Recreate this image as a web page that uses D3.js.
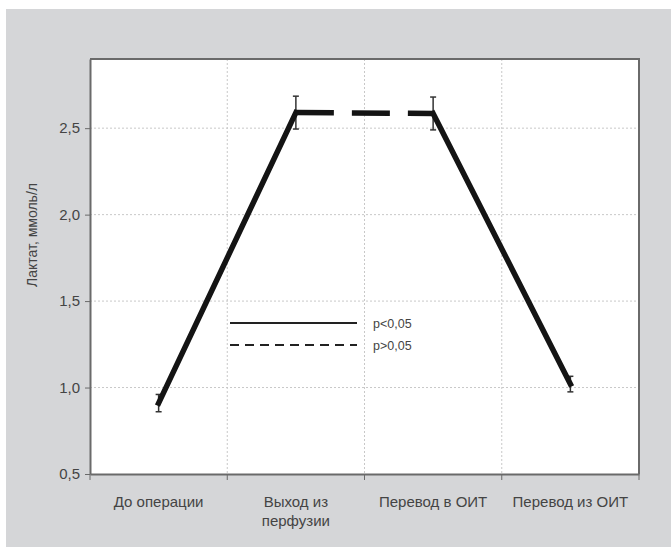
<!DOCTYPE html>
<html><head><meta charset="utf-8">
<script src="https://cdn.jsdelivr.net/npm/d3@7"></script>
<style>body{margin:0;background:#fff}svg{display:block}text{font-family:"Liberation Sans",Arial,Helvetica,sans-serif}</style>
</head><body>
<svg id="c" width="671" height="547"></svg>
<script>
const categories = ["До операции", "Выход из перфузии", "Перевод в ОИТ", "Перевод из ОИТ"];
const categoryLines = [["До операции"], ["Выход из", "перфузии"], ["Перевод в ОИТ"], ["Перевод из ОИТ"]];
const lactate = [0.91, 2.59, 2.585, 1.02];
const errors = [0.05, 0.095, 0.095, 0.045];
const significant = [true, false, true]; // segment between consecutive points: p<0.05 ?
const yTicks = [0.5, 1.0, 1.5, 2.0, 2.5];
const legendItems = [{label: "p<0,05", dashed: false}, {label: "p>0,05", dashed: true}];

const svg = d3.select("#c");
svg.append("rect").attr("x", 6).attr("y", 9).attr("width", 665).attr("height", 538).attr("fill", "#d5d6d8");

const L = 90, R = 639, T = 59, B = 474;
const x = d3.scaleBand().domain(categories).range([L, R]).padding(0);
const y = d3.scaleLinear().domain([0.5, 2.9]).range([B, T]);
const cx = c => x(c) + x.bandwidth() / 2;

svg.append("rect").attr("x", L).attr("y", T).attr("width", R - L).attr("height", B - T).attr("fill", "#fff");

// gridlines
const g = svg.append("g");
g.selectAll(".hg").data(yTicks.slice(1)).join("line")
  .attr("x1", L).attr("x2", R).attr("y1", d => y(d)).attr("y2", d => y(d))
  .attr("stroke", "#c8c8c8").attr("stroke-width", 1).attr("stroke-dasharray", "2,2");
g.selectAll(".vg").data(categories.slice(1)).join("line")
  .attr("x1", d => x(d)).attr("x2", d => x(d)).attr("y1", T).attr("y2", B)
  .attr("stroke", "#c8c8c8").attr("stroke-width", 1).attr("stroke-dasharray", "2,2");

// border top/right
svg.append("path").attr("d", `M${L},${T}H${R}V${B}`).attr("fill", "none").attr("stroke", "#6a6a6a").attr("stroke-width", 2);

// y axis
const yAxis = svg.append("g").attr("transform", `translate(${L},0)`)
  .call(d3.axisLeft(y).tickValues(yTicks).tickSize(5).tickSizeOuter(0).tickFormat(d => d3.format(".1f")(d).replace(".", ",")));
yAxis.select(".domain").attr("stroke", "#6a6a6a").attr("stroke-width", 2);
yAxis.selectAll(".tick line").attr("stroke", "#6a6a6a");
yAxis.selectAll(".tick text").attr("font-size", 15).attr("fill", "#444").attr("x", -10)
  .attr("font-family", "'Liberation Sans',Arial,sans-serif");

// x axis
const xAxis = svg.append("g").attr("transform", `translate(0,${B})`)
  .call(d3.axisBottom(x).tickSize(0).tickSizeOuter(0).tickFormat(""));
xAxis.select(".domain").attr("stroke", "#6a6a6a").attr("stroke-width", 2);
const bounds = categories.map(c => x(c)).concat([R]);
xAxis.selectAll(".bt").data(bounds).join("line")
  .attr("x1", d => d).attr("x2", d => d).attr("y1", 0).attr("y2", 6).attr("stroke", "#6a6a6a");
categories.forEach((c, i) => {
  const t = xAxis.append("text").attr("x", cx(c)).attr("y", 33).attr("text-anchor", "middle")
    .attr("font-size", 15).attr("fill", "#444");
  categoryLines[i].forEach((ln, j) => t.append("tspan").attr("x", cx(c)).attr("dy", j === 0 ? 0 : 19).text(ln));
});

// y title
svg.append("text").attr("transform", `translate(37,235) rotate(-90)`)
  .attr("text-anchor", "middle").attr("font-size", 14).attr("fill", "#444").text("Лактат, ммоль/л");

// error bars
const eb = svg.append("g").attr("stroke", "#333").attr("stroke-width", 1.5);
categories.forEach((c, i) => {
  const px = cx(c), y1 = y(lactate[i] + errors[i]), y2 = y(lactate[i] - errors[i]);
  eb.append("line").attr("x1", px).attr("x2", px).attr("y1", y1).attr("y2", y2);
  eb.append("line").attr("x1", px - 3).attr("x2", px + 3).attr("y1", y1).attr("y2", y1);
  eb.append("line").attr("x1", px - 3).attr("x2", px + 3).attr("y1", y2).attr("y2", y2);
});

// line segments
significant.forEach((s, i) => {
  svg.append("path")
    .attr("d", d3.line()([[cx(categories[i]), y(lactate[i])], [cx(categories[i + 1]), y(lactate[i + 1])]]))
    .attr("fill", "none").attr("stroke", "#141414").attr("stroke-width", 5.5)
    .attr("stroke-linecap", s ? "square" : "butt")
    .attr("stroke-dasharray", s ? null : "38,18");
});

// legend
const lg = svg.append("g");
legendItems.forEach((it, i) => {
  const ly = 323 + i * 22;
  lg.append("line").attr("x1", 230).attr("x2", 357).attr("y1", ly).attr("y2", ly)
    .attr("stroke", "#222").attr("stroke-width", 2).attr("stroke-dasharray", it.dashed ? "9,6" : null);
  lg.append("text").attr("x", 373).attr("y", ly + 5).attr("font-size", 12.5).attr("fill", "#444").text(it.label);
});
</script>
</body></html>
